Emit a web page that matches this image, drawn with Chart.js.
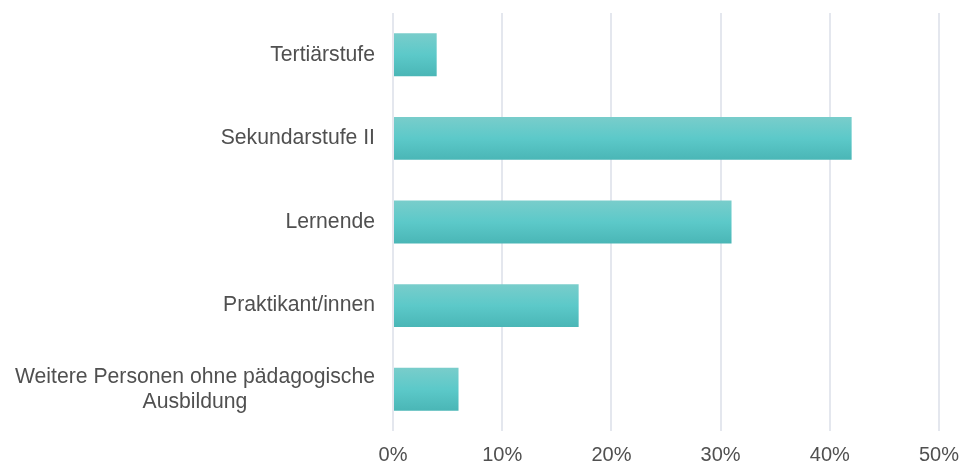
<!DOCTYPE html>
<html>
<head>
<meta charset="utf-8">
<script src="https://cdn.jsdelivr.net/npm/chart.js@4/dist/chart.umd.min.js"></script>
<style>
  html, body { margin: 0; padding: 0; background: #fff; }
  #wrap { width: 961px; height: 466px; }
</style>
</head>
<body>
<div id="wrap"><canvas id="chart"></canvas></div>
<script>
// Data
const categories = [
    "Tertiärstufe",
    "Sekundarstufe II",
    "Lernende",
    "Praktikant/innen",
    ["Weitere Personen ohne pädagogische", "Ausbildung"]
];
const shares = [4, 42, 31, 17, 6];
const xTicks = [0, 10, 20, 30, 40, 50];

const textColor = "#505050";
const fontFamily = "'Liberation Sans', Arial, sans-serif";
const barPct = 0.513;

// Gradient fill for each bar, lighter on top, darker at the bottom
function barFill(ctx) {
    const chart = ctx.chart;
    const y = chart.scales.y;
    if (!chart.chartArea || !y) return "#5cc8c8";
    const center = y.getPixelForValue(ctx.dataIndex);
    const half = (y.height / categories.length) * barPct / 2;
    const g = chart.ctx.createLinearGradient(0, center - half, 0, center + half);
    g.addColorStop(0, "#79cdcb");
    g.addColorStop(0.5, "#5cc9c9");
    g.addColorStop(1, "#4ab6b6");
    return g;
}

// Category labels: single lines right aligned, multi-line blocks centred on themselves
const categoryLabels = {
    id: "categoryLabels",
    afterDraw(chart) {
        const c = chart.ctx;
        const y = chart.scales.y;
        const right = y.right - 18;
        const lineHeight = 25;
        c.save();
        c.font = "21.2px " + fontFamily;
        c.fillStyle = textColor;
        c.textAlign = "center";
        c.textBaseline = "middle";
        categories.forEach((label, i) => {
            const lines = Array.isArray(label) ? label : [label];
            const widest = Math.max(...lines.map(l => c.measureText(l).width));
            const cx = right - widest / 2;
            const cy = y.getPixelForValue(i);
            lines.forEach((line, j) => {
                c.fillText(line, cx, cy + (j - (lines.length - 1) / 2) * lineHeight);
            });
        });
        c.restore();
    }
};

new Chart(document.getElementById("chart"), {
    type: "bar",
    data: {
        labels: categories,
        datasets: [{
            data: shares,
            backgroundColor: barFill,
            borderWidth: 0,
            barPercentage: barPct,
            categoryPercentage: 1
        }]
    },
    options: {
        indexAxis: "y",
        responsive: true,
        maintainAspectRatio: false,
        animation: false,
        layout: { padding: { top: 13, right: 22, bottom: 0, left: 0 } },
        plugins: {
            legend: { display: false },
            tooltip: { enabled: false }
        },
        scales: {
            x: {
                min: 0,
                max: 50,
                afterBuildTicks: (scale) => {
                    scale.ticks = xTicks.map(v => ({ value: v }));
                },
                afterFit: (scale) => {
                    scale.height = 35;
                    scale.paddingLeft = 0;
                    scale.paddingRight = 0;
                },
                grid: { color: "#e4e7ee", lineWidth: 2, drawTicks: false },
                border: { display: false },
                ticks: {
                    padding: 12,
                    color: textColor,
                    font: { family: fontFamily, size: 20 },
                    callback: (v) => v + "%"
                }
            },
            y: {
                grid: { display: false },
                border: { display: false },
                ticks: { display: false },
                afterFit: (scale) => { scale.width = 393; }
            }
        }
    },
    plugins: [categoryLabels]
});
</script>
</body>
</html>
